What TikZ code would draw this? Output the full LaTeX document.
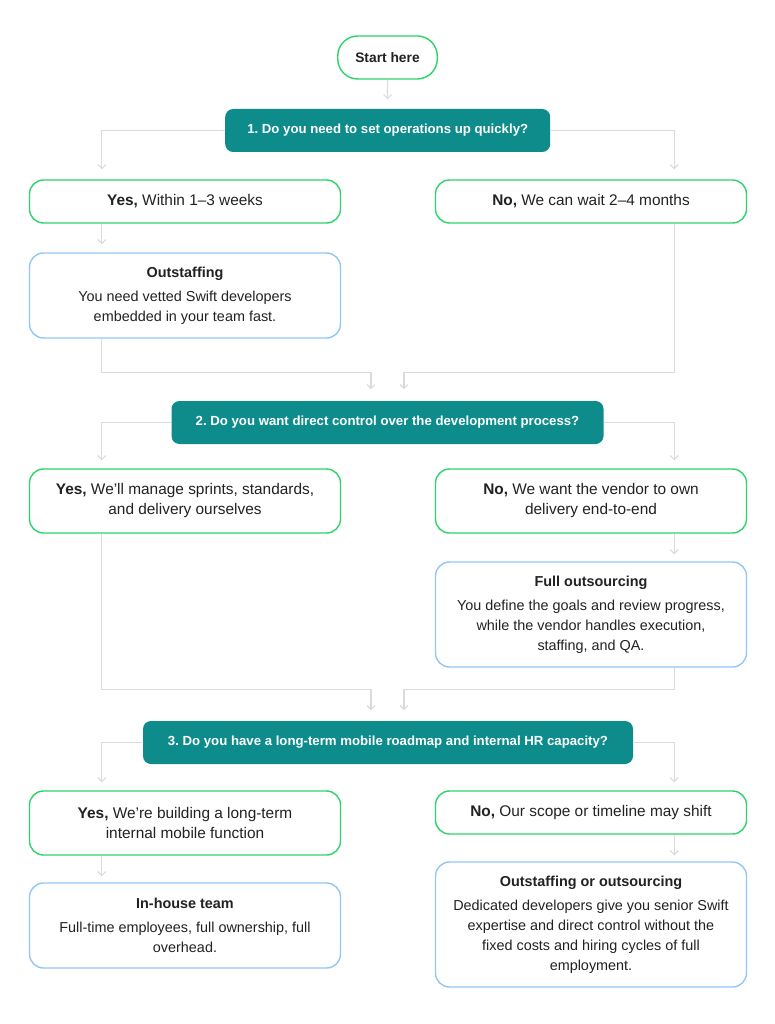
\documentclass[tikz,border=0pt]{standalone}
\usepackage{fontspec}
\setmainfont{Liberation Sans}
\usetikzlibrary{arrows.meta}
\frenchspacing
\definecolor{teal1}{HTML}{0E8C8C}
\definecolor{grn}{HTML}{2CD46A}
\definecolor{blu}{HTML}{92C7F5}
\definecolor{conn}{HTML}{D8DBE0}
\definecolor{txt}{HTML}{222222}
\tikzset{
  base/.style={inner sep=0pt, align=center, text=txt, line width=1.4pt},
  startbox/.style={base, draw=grn, rounded corners=20pt, minimum width=99.5pt, minimum height=43pt, font=\fontsize{13.8}{16}\selectfont\bfseries},
  qbox/.style={base, fill=teal1, text=white, rounded corners=8pt, minimum height=43pt, font=\fontsize{13.2}{16}\selectfont\bfseries},
  ansbox/.style={base, draw=grn, rounded corners=14pt, minimum width=311pt, font=\fontsize{15.4}{20}\selectfont},
  resbox/.style={base, draw=blu, rounded corners=14pt, minimum width=311pt, font=\fontsize{14.4}{20}\selectfont},
  link/.style={draw=conn, line width=1.2pt, -{Straight Barb[length=4pt,width=8pt,line width=1.1pt]}},
}
\begin{document}
\begin{tikzpicture}[x=1pt,y=-1pt]
\useasboundingbox (0,0) rectangle (775,1024);
\fill[white] (0,0) rectangle (775,1024);

\node[startbox] (start) at (387.5,57.5) {Start here};
\node[qbox, minimum width=325pt] (q1) at (387.7,130.5) {1. Do you need to set operations up quickly?};
\node[ansbox, minimum height=43pt] (yes1) at (185,201.5) {\textbf{Yes,} Within 1–3 weeks};
\node[ansbox, minimum height=43pt] (no1) at (591,201.5) {\textbf{No,} We can wait 2–4 months};
\node[resbox, minimum height=85pt] (outst) at (185,295.5) {\textbf{Outstaffing}\\[4pt]You need vetted Swift developers\\embedded in your team fast.};

\node[qbox, minimum width=432pt] (q2) at (387.5,422.5) {2. Do you want direct control over the development process?};
\node[ansbox, minimum height=64pt] (yes2) at (185,501) {\textbf{Yes,} We'll manage sprints, standards,\\and delivery ourselves};
\node[ansbox, minimum height=64pt] (no2) at (591,501) {\textbf{No,} We want the vendor to own\\delivery end-to-end};
\node[resbox, minimum height=105pt] (full) at (591,614.5) {\textbf{Full outsourcing}\\[4pt]You define the goals and review progress,\\while the vendor handles execution,\\staffing, and QA.};

\node[qbox, minimum width=490pt] (q3) at (388,742.5) {3. Do you have a long-term mobile roadmap and internal HR capacity?};
\node[ansbox, minimum height=64pt] (yes3) at (185,823) {\textbf{Yes,} We're building a long-term\\internal mobile function};
\node[ansbox, minimum height=43pt] (no3) at (591,812.5) {\textbf{No,} Our scope or timeline may shift};
\node[resbox, minimum height=85pt] (inh) at (185,925.5) {\textbf{In-house team}\\[4pt]Full-time employees, full ownership, full\\overhead.};
\node[resbox, minimum height=125pt] (ooo) at (591,924.5) {\textbf{Outstaffing or outsourcing}\\[4pt]Dedicated developers give you senior Swift\\expertise and direct control without the\\fixed costs and hiring cycles of full\\employment.};

% connectors
\draw[link, shorten >=9pt] (start.south) -- (q1.north);
\draw[link, shorten >=10pt] (q1.west) -| ([xshift=73pt]yes1.north west);
\draw[link, shorten >=10pt] (q1.east) -| ([xshift=-73pt]no1.north east);
\draw[link, shorten >=8pt] ([xshift=73pt]yes1.south west) -- ([xshift=73pt]outst.north west);
\draw[link, shorten >=11pt] ([xshift=73pt]outst.south west) -- ++(0,34) -| ([xshift=-16.5pt]q2.north);
\draw[link, shorten >=11pt] ([xshift=-73pt]no1.south east) -- ++(0,149) -| ([xshift=16.5pt]q2.north);

\draw[link, shorten >=8pt] (q2.west) -| ([xshift=73pt]yes2.north west);
\draw[link, shorten >=8pt] (q2.east) -| ([xshift=-73pt]no2.north east);
\draw[link, shorten >=7pt] ([xshift=-73pt]no2.south east) -- ([xshift=-73pt]full.north east);
\draw[link, shorten >=10pt] ([xshift=73pt]yes2.south west) -- ++(0,156) -| ([xshift=-17pt]q3.north);
\draw[link, shorten >=10pt] ([xshift=-73pt]full.south east) -- ++(0,22) -| ([xshift=16pt]q3.north);

\draw[link, shorten >=8pt] (q3.west) -| ([xshift=73pt]yes3.north west);
\draw[link, shorten >=8pt] (q3.east) -| ([xshift=-73pt]no3.north east);
\draw[link, shorten >=6pt] ([xshift=73pt]yes3.south west) -- ([xshift=73pt]inh.north west);
\draw[link, shorten >=6pt] ([xshift=-73pt]no3.south east) -- ([xshift=-73pt]ooo.north east);
\end{tikzpicture}
\end{document}
